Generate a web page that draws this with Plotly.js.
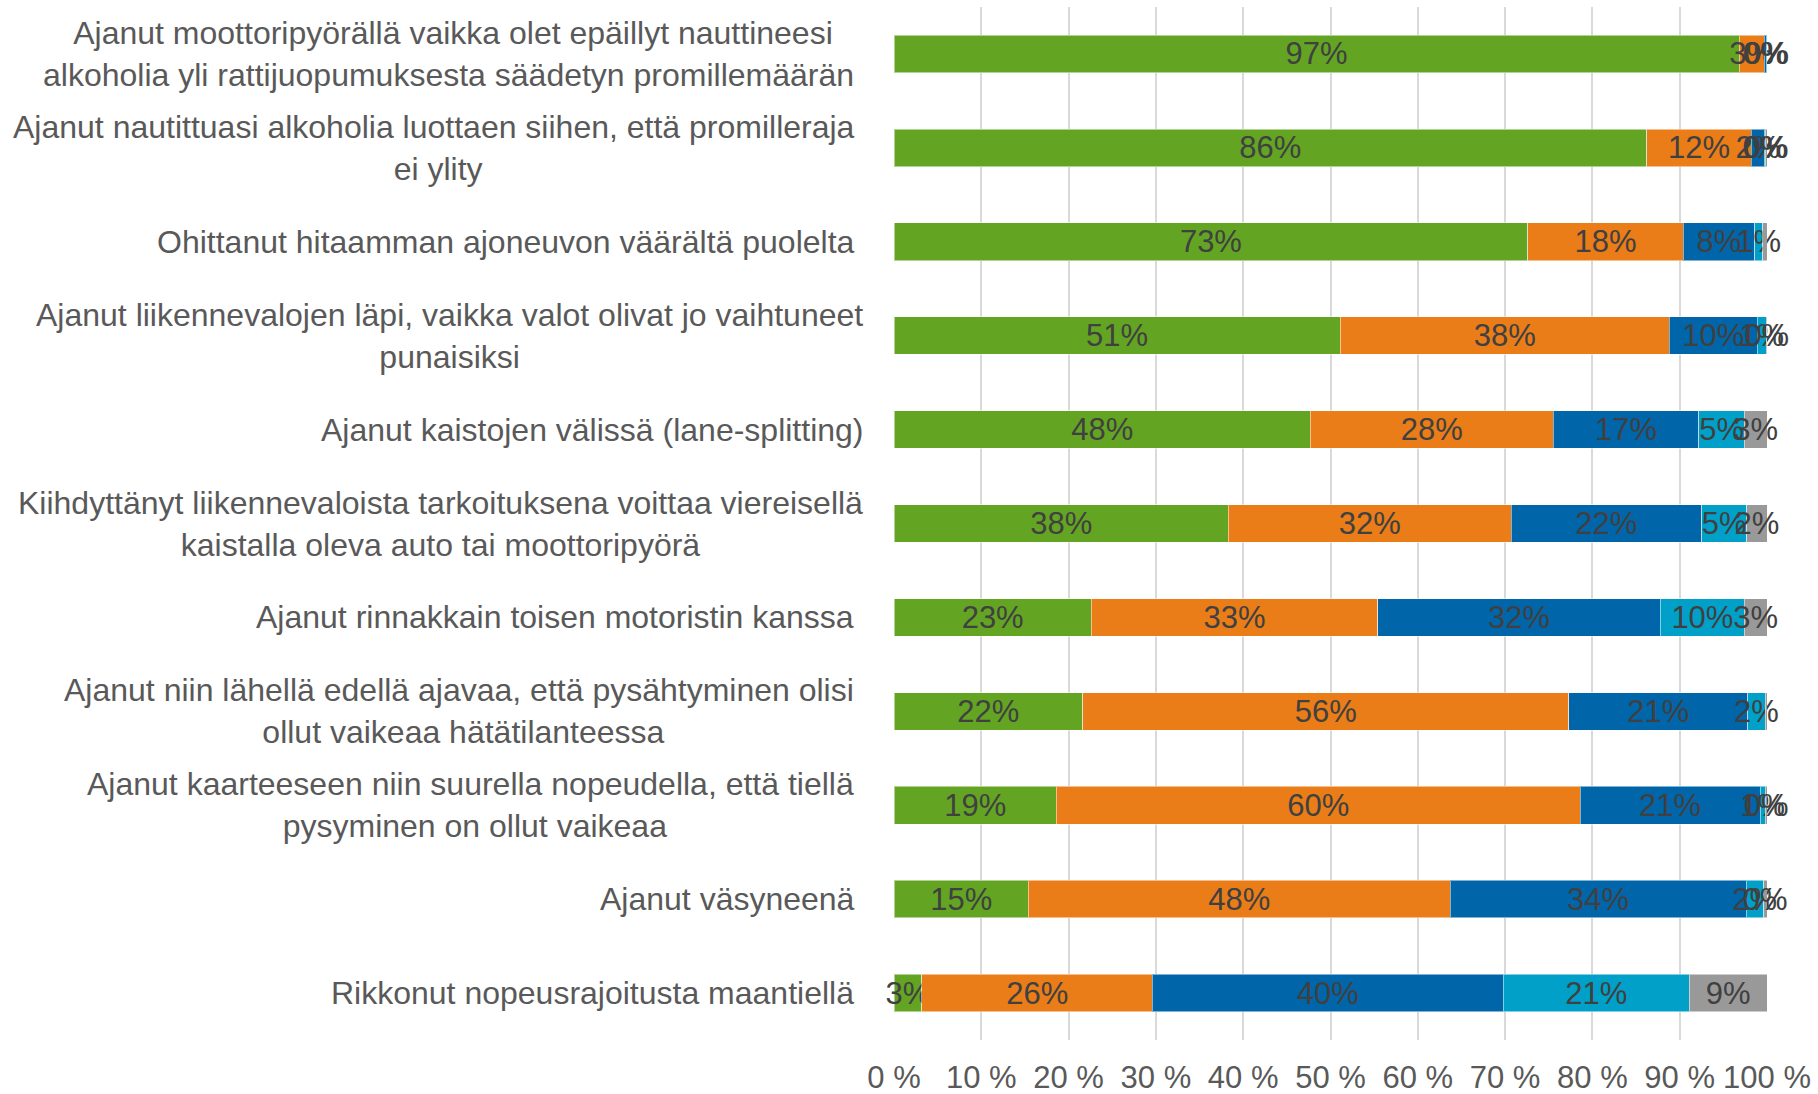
<!DOCTYPE html>
<html>
<head>
<meta charset="utf-8">
<script src="https://cdn.plot.ly/plotly-3.0.1.min.js"></script>
<style>html,body{margin:0;padding:0;background:#fff;}#chart{width:1818px;height:1094px;}</style>
</head>
<body>
<div id="chart"></div>
<script>
const NB = '\u00a0';
const categories = [
  'Ajanut moottoripyörällä vaikka olet epäillyt nauttineesi<br>alkoholia yli rattijuopumuksesta säädetyn promillemäärän' + NB,
  'Ajanut nautittuasi alkoholia luottaen siihen, että promilleraja' + NB + '<br>ei ylity',
  'Ohittanut hitaamman ajoneuvon väärältä puolelta' + NB,
  'Ajanut liikennevalojen läpi, vaikka valot olivat jo vaihtuneet<br>punaisiksi',
  'Ajanut kaistojen välissä (lane-splitting)',
  'Kiihdyttänyt liikennevaloista tarkoituksena voittaa viereisellä<br>kaistalla oleva auto tai moottoripyörä',
  'Ajanut rinnakkain toisen motoristin kanssa' + NB,
  'Ajanut niin lähellä edellä ajavaa, että pysähtyminen olisi' + NB + '<br>ollut vaikeaa hätätilanteessa',
  'Ajanut kaarteeseen niin suurella nopeudella, että tiellä' + NB + '<br>pysyminen on ollut vaikeaa',
  'Ajanut väsyneenä' + NB,
  'Rikkonut nopeusrajoitusta maantiellä' + NB
];

// Five response groups (percent of respondents)
const series1 = [96.8, 86.2, 72.6, 51.1, 47.7, 38.3, 22.6, 21.6, 18.6, 15.4, 3.2];
const series2 = [2.9, 12.0, 17.8, 37.7, 27.8, 32.4, 32.8, 55.7, 60.0, 48.3, 26.4];
const series3 = [0.2, 1.5, 8.2, 10.1, 16.7, 21.8, 32.4, 20.5, 20.6, 33.9, 40.2];
const series4 = [0.1, 0.1, 0.9, 1.0, 5.2, 5.2, 9.6, 2.0, 0.6, 2.0, 21.3];
const series5 = [0.0, 0.2, 0.6, 0.1, 2.6, 2.3, 2.6, 0.2, 0.2, 0.4, 8.9];

const seriesList = [series1, series2, series3, series4, series5];
const colors = ['#63a523', '#ea7d18', '#0065a9', '#00a0c9', '#999999'];
const xTicks = [0, 10, 20, 30, 40, 50, 60, 70, 80, 90, 100];
const xTickText = xTicks.map(v => v + ' %');

const FONT = 'Liberation Sans, Arial, sans-serif';

const traces = seriesList.map((vals, i) => ({
  type: 'bar',
  orientation: 'h',
  y: categories,
  x: vals,
  marker: {color: colors[i], line: {color: 'rgba(255,255,255,0.5)', width: 1}},
  text: vals.map(v => Math.round(v) + '%'),
  textposition: 'inside',
  insidetextanchor: 'middle',
  textangle: 0,
  constraintext: 'none',
  cliponaxis: false,
  textfont: {family: FONT, size: 31, color: '#404040'},
  insidetextfont: {family: FONT, size: 31, color: '#404040'},
  hoverinfo: 'x+y'
}));

const annotations = categories.map(c => ({
  xref: 'paper', yref: 'y',
  x: 0, y: c,
  xshift: -29,
  xanchor: 'right', yanchor: 'middle',
  align: 'center',
  showarrow: false,
  text: c,
  font: {family: FONT, size: 32, color: '#595959'}
}));

const layout = {
  width: 1818, height: 1094,
  margin: {l: 894, r: 51, t: 7, b: 54},
  barmode: 'stack',
  bargap: 0.6,
  showlegend: false,
  paper_bgcolor: '#ffffff',
  plot_bgcolor: '#ffffff',
  font: {family: FONT},
  xaxis: {
    range: [0, 100],
    tickvals: xTicks,
    ticktext: xTickText,
    showgrid: true,
    gridcolor: '#d9d9d9',
    gridwidth: 2,
    zeroline: false,
    showline: false,
    ticks: 'outside',
    ticklen: 10,
    tickcolor: 'rgba(0,0,0,0)',
    tickfont: {family: FONT, size: 31, color: '#595959'},
    fixedrange: true
  },
  yaxis: {
    type: 'category',
    categoryorder: 'array',
    categoryarray: categories,
    autorange: 'reversed',
    showticklabels: false,
    showgrid: false,
    zeroline: false,
    showline: false,
    fixedrange: true
  },
  annotations: annotations
};

Plotly.newPlot('chart', traces, layout, {displayModeBar: false, staticPlot: true});
</script>
</body>
</html>
